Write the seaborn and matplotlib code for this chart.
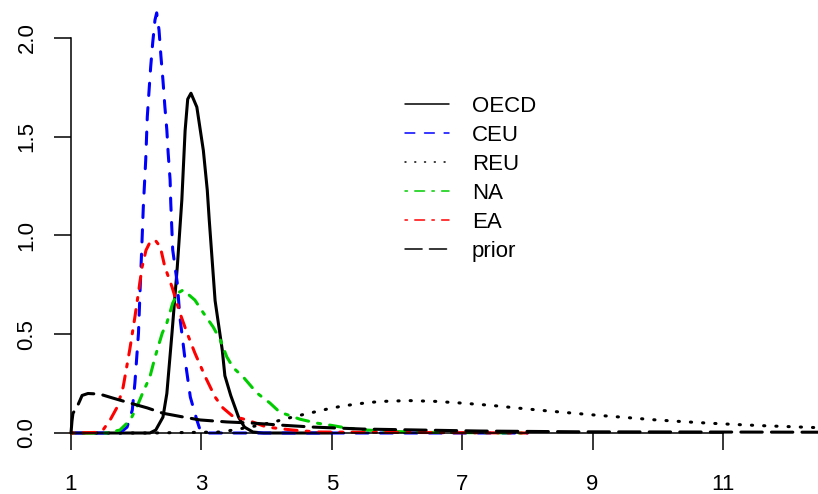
import numpy as np
import pandas as pd
import seaborn as sns
import matplotlib.pyplot as plt
from matplotlib.lines import Line2D

# density curves
oecd_x = [1.0, 2.21, 2.30, 2.41, 2.47, 2.55, 2.63, 2.70, 2.75, 2.79, 2.84, 2.93, 3.03, 3.09, 3.12,
          3.21, 3.32, 3.36, 3.45, 3.57, 3.66, 3.79, 3.95, 5.0]
oecd_y = [0.0, 0.0, 0.015, 0.08, 0.20, 0.51, 0.84, 1.18, 1.53, 1.69, 1.72, 1.65, 1.43, 1.23, 1.08,
          0.67, 0.42, 0.29, 0.19, 0.08, 0.03, 0.005, 0.0, 0.0]

ceu_x = [1.0, 1.75, 1.86, 1.94, 1.98, 2.035, 2.058, 2.084, 2.109, 2.146, 2.170, 2.201, 2.222, 2.253,
         2.288, 2.314, 2.35, 2.38, 2.41, 2.44, 2.47, 2.49, 2.52, 2.53, 2.56, 2.63, 2.67, 2.75, 2.83,
         2.93, 2.98, 3.06, 8.0]
ceu_y = [0.0, 0.0, 0.03, 0.116, 0.253, 0.506, 0.709, 0.927, 1.144, 1.382, 1.60, 1.752, 1.853, 1.975,
         2.091, 2.127, 2.04, 1.904, 1.787, 1.651, 1.534, 1.418, 1.281, 1.165, 0.927, 0.759, 0.587,
         0.37, 0.182, 0.066, 0.015, 0.0, 0.0]

reu_x = [1.0, 2.21, 3.29, 3.49, 3.90, 4.11, 4.33, 4.53, 4.73, 4.94, 5.14, 5.34, 5.56, 5.77, 6.18,
         6.60, 7.01, 7.44, 7.86, 8.27, 8.68, 9.10, 9.53, 9.94, 10.36, 10.77, 11.20, 11.61, 12.03, 12.46]
reu_y = [0.0, 0.0, 0.005, 0.015, 0.04, 0.056, 0.075, 0.091, 0.106, 0.122, 0.135, 0.145, 0.154, 0.160,
         0.164, 0.160, 0.151, 0.140, 0.126, 0.113, 0.101, 0.089, 0.078, 0.067, 0.058, 0.050, 0.043,
         0.037, 0.032, 0.027]

na_x = [1.0, 1.55, 1.75, 1.91, 2.01, 2.10, 2.21, 2.29, 2.40, 2.47, 2.56, 2.64, 2.72, 2.90, 3.03,
        3.18, 3.29, 3.39, 3.49, 3.64, 3.85, 4.05, 4.20, 4.51, 4.77, 4.97, 5.23, 5.54, 5.89, 6.5, 8.0]
na_y = [0.0, 0.0, 0.015, 0.066, 0.132, 0.203, 0.284, 0.385, 0.506, 0.557, 0.658, 0.709, 0.724, 0.673,
        0.608, 0.537, 0.471, 0.385, 0.33, 0.284, 0.203, 0.152, 0.106, 0.07, 0.05, 0.04, 0.025, 0.015,
        0.008, 0.003, 0.0]

ea_x = [1.0, 1.40, 1.49, 1.60, 1.71, 1.80, 1.90, 1.98, 2.03, 2.09, 2.15, 2.21, 2.29, 2.37, 2.44,
        2.55, 2.67, 2.78, 2.90, 3.06, 3.21, 3.33, 3.48, 3.70, 4.00, 4.40, 4.77, 6.0, 8.0]
ea_y = [0.0, 0.003, 0.015, 0.066, 0.132, 0.233, 0.42, 0.587, 0.70, 0.84, 0.925, 0.965, 0.977, 0.942,
        0.84, 0.739, 0.608, 0.506, 0.405, 0.284, 0.182, 0.127, 0.085, 0.066, 0.03, 0.015, 0.005,
        0.003, 0.0]

prior_x = [1.0, 1.015, 1.03, 1.09, 1.14, 1.17, 1.26, 1.44, 1.64, 1.90, 2.17, 2.41, 2.72, 2.98, 3.39,
           3.79, 4.21, 4.71, 5.48, 6.35, 7.27, 8.81, 12.46]
prior_y = [0.0, 0.06, 0.10, 0.13, 0.167, 0.19, 0.20, 0.197, 0.177, 0.152, 0.127, 0.10, 0.081, 0.066,
           0.056, 0.05, 0.04, 0.03, 0.02, 0.015, 0.01, 0.006, 0.004]

labels = ["OECD", "CEU", "REU", "NA", "EA", "prior"]
colors = ["black", "#0000FF", "black", "#00CD00", "#FF0000", "black"]
dash_seq = [None, (4, 4), (0.4, 3.6), (1, 3, 4, 3), (1, 3, 4, 3), (7, 3)]

sns.set_style("white")
plt.rcParams['font.family'] = ['Liberation Sans', 'DejaVu Sans']
plt.rcParams['text.color'] = 'black'


def style(seq, scale=1.0):
    if seq is None:
        return "-"
    return (0, tuple(v * scale for v in seq))


fig = plt.figure(figsize=(8.18, 4.94), dpi=100)
ax = fig.add_axes([71 / 818, 61 / 494, 747 / 818, 433 / 494])

curves = [(oecd_x, oecd_y), (ceu_x, ceu_y), (reu_x, reu_y), (na_x, na_y), (ea_x, ea_y), (prior_x, prior_y)]
for (xs, ys), c, seq in zip(curves, colors, dash_seq):
    sns.lineplot(x=xs, y=ys, ax=ax, color=c, linewidth=2.2, linestyle=style(seq),
                 dash_capstyle='round', solid_capstyle='round', clip_on=False)

ax.set_xlim(1, 12.457)
ax.set_ylim(0, 2.192)
ax.set_xticks([1, 3, 5, 7, 9, 11])
ax.set_xticklabels(["1", "3", "5", "7", "9", "11"])
ax.set_yticks([0, 0.5, 1.0, 1.5, 2.0])
ax.set_yticklabels(["0.0", "0.5", "1.0", "1.5", "2.0"], rotation=90, va='center')
ax.tick_params(bottom=True, left=True, direction='out', length=12.2, width=1.1,
               labelsize=16, colors='black')
ax.tick_params(axis='x', pad=17)
ax.tick_params(axis='y', pad=12)

for s in ['top', 'right']:
    ax.spines[s].set_visible(False)
ax.spines['left'].set_bounds(0, 2.0)
ax.spines['bottom'].set_bounds(1, 11)
for s in ['left', 'bottom']:
    ax.spines[s].set_linewidth(1.1)
    ax.spines[s].set_color('black')
ax.set_xlabel("")
ax.set_ylabel("")

handles = [Line2D([], [], color=c, lw=1.1, linestyle=style(seq, 1.6), dash_capstyle='round')
           for c, seq in zip(colors, dash_seq)]
fig.legend(handles, labels, loc='upper left', bbox_to_anchor=(405 / 818, 1 - 96 / 494),
           frameon=False, fontsize=16, handlelength=2.0, handletextpad=1.0,
           labelspacing=0.36, borderpad=0, borderaxespad=0)

fig.savefig("out.png", dpi=100)
